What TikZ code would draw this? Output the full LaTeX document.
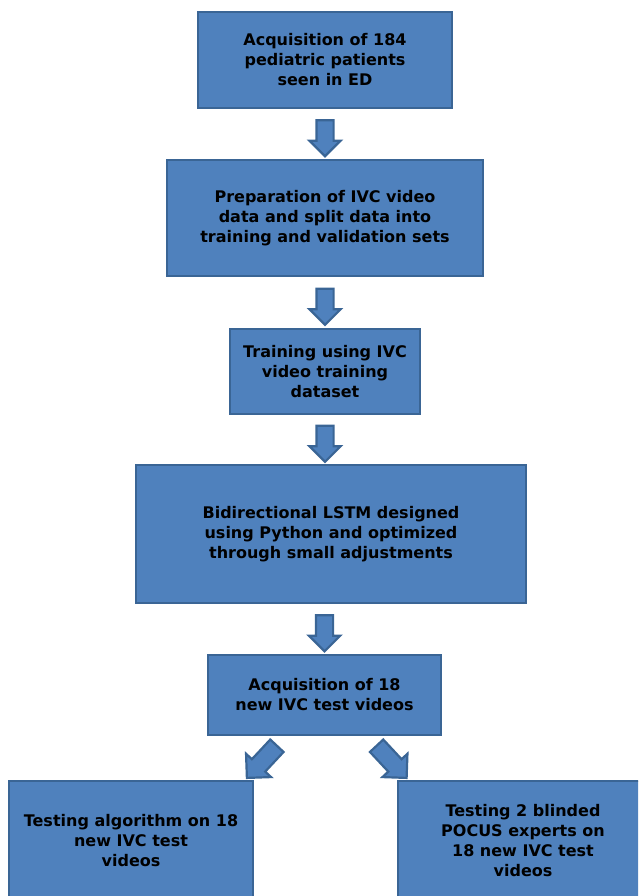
\documentclass[tikz,border=0pt]{standalone}
\usepackage{fontspec}
\setmainfont{DejaVu Sans}
\usetikzlibrary{shapes.arrows,positioning,calc}
\definecolor{boxblue}{HTML}{4F81BD}
\definecolor{boxedge}{HTML}{3A6595}
\begin{document}
\begin{tikzpicture}[x=1pt,y=-1pt,
    stepbox/.style={draw=boxedge,line width=2.5pt,fill=boxblue,align=center,
      font=\bfseries\fontsize{16}{20}\selectfont,inner sep=0pt},
    flowarrow/.style={single arrow,draw=boxedge,line width=2.2pt,fill=boxblue,
      minimum height=36pt,inner sep=7.5pt,single arrow head extend=7pt,
      single arrow head indent=0pt}]
  \useasboundingbox (0,0) rectangle (638,896);
  \clip (0,0) rectangle (638,896);
  % the boxes of the flow
  \node[stepbox,minimum width=254pt,minimum height=96pt] (acq) at (325,60)
    {Acquisition of 184\\pediatric patients\\seen in ED};
  \node[stepbox,minimum width=316pt,minimum height=116pt] (prep) at (325,218)
    {Preparation of IVC video\\data and split data into\\training and validation sets};
  \node[stepbox,minimum width=190pt,minimum height=85pt] (train) at (325,371.5)
    {Training using IVC\\video training\\dataset};
  \node[stepbox,minimum width=390pt,minimum height=138pt] (lstm) at (331,534)
    {Bidirectional LSTM designed\\using Python and optimized\\through small adjustments};
  \node[stepbox,minimum width=233pt,minimum height=80pt] (test) at (324.5,695)
    {Acquisition of 18\\new IVC test videos};
  \node[stepbox,minimum width=244pt,minimum height=120pt] (algo) at (131,841)
    {Testing algorithm on 18\\new IVC test\\videos};
  \node[stepbox,minimum width=250pt,minimum height=120pt] (pocus) at (523,841)
    {Testing 2 blinded\\POCUS experts on\\18 new IVC test\\videos};
  % block arrows between the boxes
  \node[flowarrow,rotate=-90] (a1) at ($(acq.south)!0.5!(prep.north)$) {};
  \node[flowarrow,rotate=-90] (a2) at ($(prep.south)!0.5!(train.north)$) {};
  \node[flowarrow,rotate=-90] (a3) at ($(train.south)!0.5!(train.south|-lstm.north)$) {};
  \node[flowarrow,rotate=-90] (a4) at ($(lstm.south-|test.north)!0.5!(test.north)$) {};
  \coordinate (l1) at (280,742);
  \coordinate (l2) at (250,775);
  \coordinate (r1) at (373,742);
  \coordinate (r2) at (404,775);
  \node[flowarrow,rotate=227,minimum height=44pt,inner sep=8pt,single arrow head extend=8pt] (al) at ($(l1)!0.5!(l2)$) {};
  \node[flowarrow,rotate=-47,minimum height=44pt,inner sep=8pt,single arrow head extend=8pt] (ar) at ($(r1)!0.5!(r2)$) {};
\end{tikzpicture}
\end{document}
